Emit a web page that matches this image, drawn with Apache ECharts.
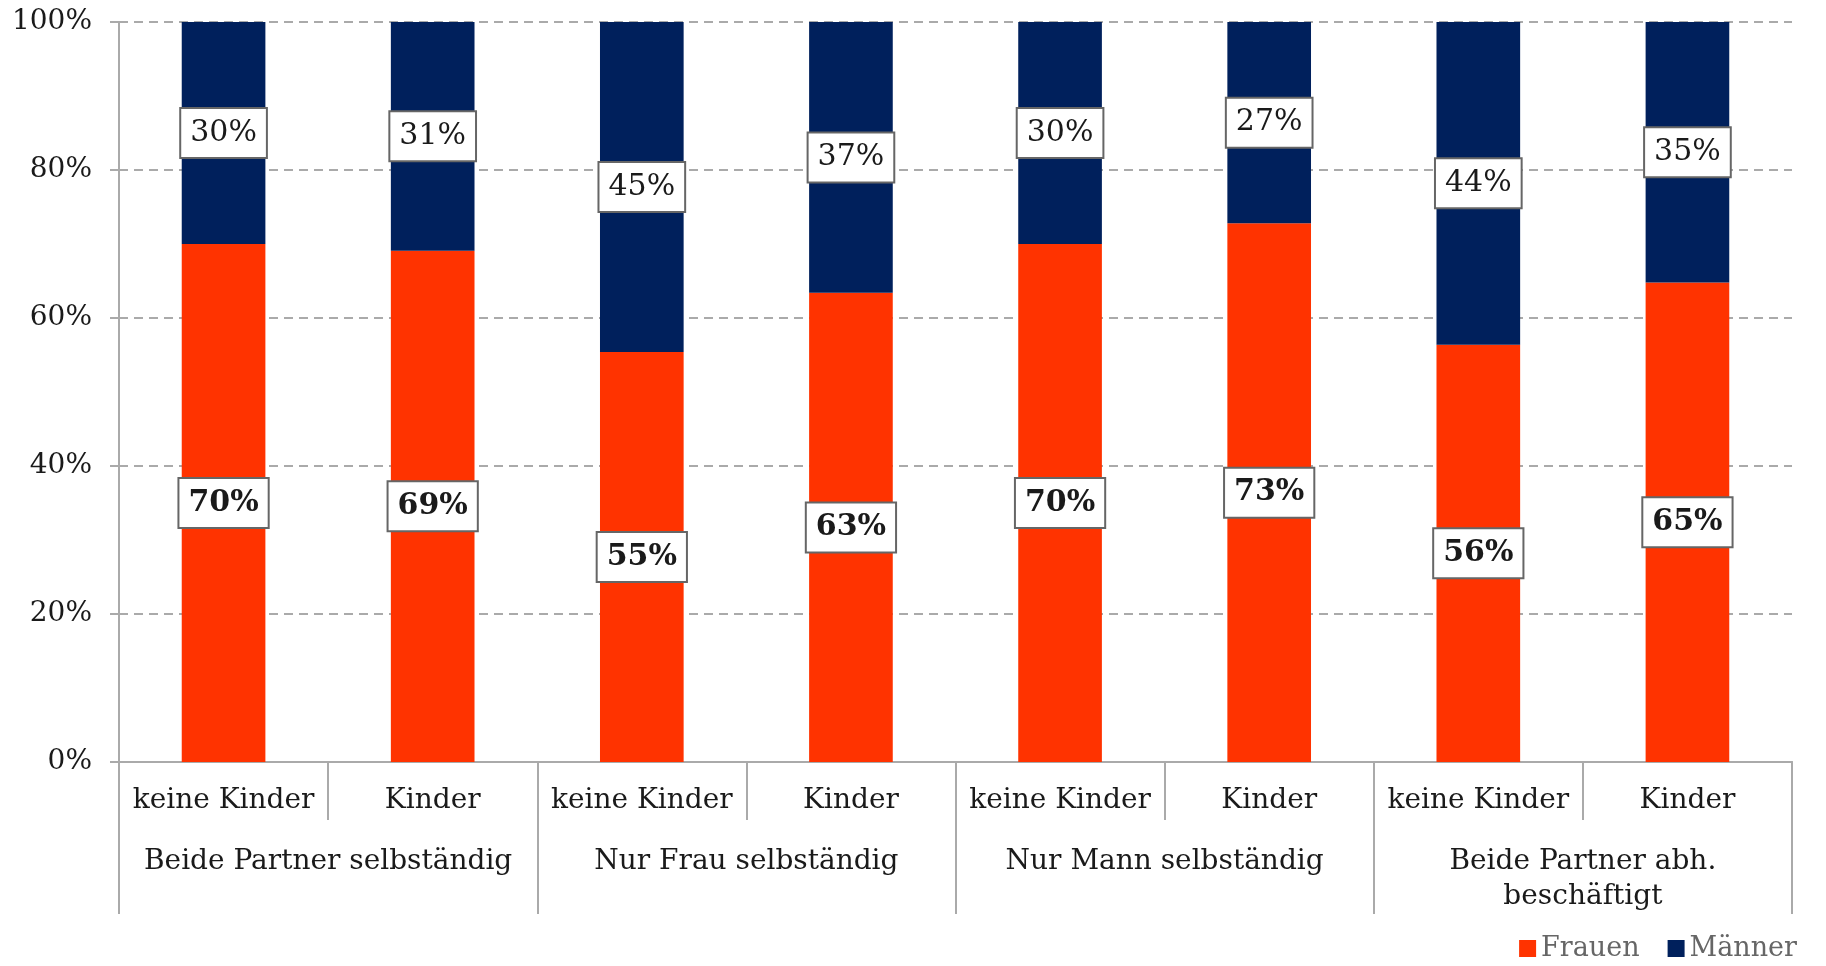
<!DOCTYPE html>
<html>
<head>
<meta charset="utf-8">
<script src="https://cdn.jsdelivr.net/npm/echarts@6/dist/echarts.min.js"></script>
<style>html,body{margin:0;padding:0;background:#fff}#c{width:1826px;height:966px}</style>
</head>
<body>
<div id="c"></div>
<script>
const categories = ['keine Kinder','Kinder','keine Kinder','Kinder','keine Kinder','Kinder','keine Kinder','Kinder'];
const groups = ['Beide Partner selbständig','Nur Frau selbständig','Nur Mann selbständig','Beide Partner abh.\nbeschäftigt'];
const frauen = [70.0, 69.1, 55.4, 63.4, 70.0, 72.8, 56.4, 64.8];
const maenner = [30.0, 30.9, 44.6, 36.6, 30.0, 27.2, 43.6, 35.2];
const yTicks = [0, 20, 40, 60, 80, 100];

const FONT = '"DejaVu Serif", Georgia, serif';
const chart = echarts.init(document.getElementById('c'), null, {renderer: 'canvas'});

function labelCfg(bold) {
  return {
    show: true,
    position: 'inside',
    formatter: p => Math.round(p.value) + '%',
    fontFamily: FONT,
    fontSize: 30,
    fontWeight: bold ? 'bold' : 'normal',
    color: '#1a1a1a',
    lineHeight: 36,
    backgroundColor: '#fff',
    borderColor: '#666',
    borderWidth: 2,
    padding: [7, 9, 5, 9]
  };
}

chart.setOption({
  animation: false,
  grid: {left: 119, right: 34, top: 22, bottom: 204, containLabel: false},
  legend: {
    right: 24, top: 930,
    icon: 'rect', itemWidth: 17, itemHeight: 17, itemGap: 28,
    textStyle: {fontFamily: FONT, fontSize: 27, color: '#666'},
    data: ['Frauen', 'Männer']
  },
  xAxis: [
    {
      type: 'category', data: categories, position: 'bottom',
      axisLine: {show: true, lineStyle: {color: '#aaa', width: 2}},
      axisTick: {show: true, interval: 0, length: 58, lineStyle: {color: '#aaa', width: 2}},
      axisLabel: {interval: 0, margin: 22, fontFamily: FONT, fontSize: 28, color: '#1a1a1a', lineHeight: 34},
      splitLine: {show: false}
    },
    {
      type: 'category', data: groups, position: 'bottom',
      axisLine: {show: true, lineStyle: {color: '#aaa', width: 2}},
      axisTick: {show: true, interval: 0, length: 152, lineStyle: {color: '#aaa', width: 2}},
      axisLabel: {interval: 0, margin: 82, fontFamily: FONT, fontSize: 28, color: '#1a1a1a', lineHeight: 35},
      splitLine: {show: false}
    }
  ],
  yAxis: {
    type: 'value', min: yTicks[0], max: yTicks[yTicks.length - 1], interval: 20,
    axisLine: {show: true, lineStyle: {color: '#aaa', width: 2}},
    axisTick: {show: true, length: 9, lineStyle: {color: '#aaa', width: 2}},
    axisLabel: {formatter: v => v + '%', margin: 27, fontFamily: FONT, fontSize: 28, color: '#1a1a1a'},
    splitLine: {show: true, lineStyle: {color: '#aaa', type: [9, 6], width: 2}}
  },
  series: [
    {
      name: 'Frauen', type: 'bar', stack: 'a', xAxisIndex: 0, barWidth: '40%',
      itemStyle: {color: '#FF3300'},
      label: labelCfg(true),
      data: frauen
    },
    {
      name: 'Männer', type: 'bar', stack: 'a', xAxisIndex: 0, barWidth: '40%',
      itemStyle: {color: '#00205C'},
      label: labelCfg(false),
      data: maenner
    }
  ]
});
</script>
</body>
</html>
